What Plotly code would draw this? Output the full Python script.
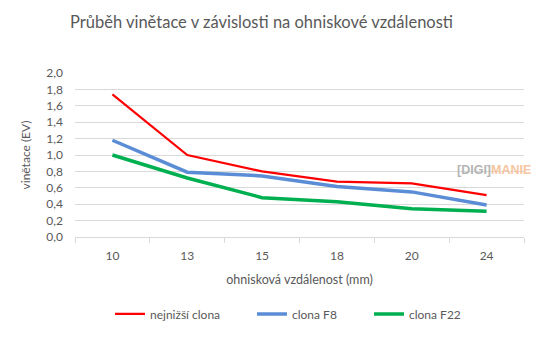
import plotly.graph_objects as go

categories = ["10", "13", "15", "18", "20", "24"]
nejnizsi = [1.74, 1.00, 0.80, 0.675, 0.655, 0.51]
f8 = [1.18, 0.79, 0.745, 0.615, 0.55, 0.39]
f22 = [1.00, 0.72, 0.48, 0.43, 0.345, 0.315]
series_names = ["nejnižší clona", "clona F8", "clona F22"]

FONT = "Lato"
GREY = "#595959"

fig = go.Figure()
fig.add_trace(go.Scatter(x=categories, y=nejnizsi, mode="lines", name=series_names[0],
                         line=dict(color="#FF0000", width=2.2), legend="legend", showlegend=True))
fig.add_trace(go.Scatter(x=categories, y=f8, mode="lines", name=series_names[1],
                         line=dict(color="#5B8DD6", width=3.5), legend="legend2", showlegend=True))
fig.add_trace(go.Scatter(x=categories, y=f22, mode="lines", name=series_names[2],
                         line=dict(color="#00B050", width=3.5), legend="legend3", showlegend=True))

L, R, T, B = 75, 24, 73, 101
W, H = 548, 339
pw = W - L - R

def lx(px):
    return (px - L) / pw

leg_common = dict(orientation="h", yanchor="middle", y=-0.46, xanchor="left",
                  bgcolor="rgba(0,0,0,0)", font=dict(family=FONT, size=12, color=GREY),
                  itemwidth=30, tracegroupgap=0, visible=True)

fig.update_layout(
    width=W, height=H,
    margin=dict(l=L, r=R, t=T, b=B),
    paper_bgcolor="white", plot_bgcolor="white",
    separators=", ",
    showlegend=True,
    title=dict(text="Průběh vinětace v závislosti na ohniskové vzdálenosti",
               x=261.5 / W, xanchor="center", y=1 - 22 / H, yanchor="middle",
               font=dict(family=FONT, size=16.5, color=GREY)),
    font=dict(family=FONT, size=12, color=GREY),
    legend=dict(x=lx(110), **leg_common),
    legend2=dict(x=lx(252), **leg_common),
    legend3=dict(x=lx(369), **leg_common),
    xaxis=dict(type="category", range=[-0.5, 5.5], showgrid=False,
               showline=True, linecolor="#D9D9D9", linewidth=1,
               ticks="outside", tickson="boundaries", ticklen=5, tickcolor="#D9D9D9",
               ticklabelstandoff=8,
               tickfont=dict(family=FONT, size=12, color=GREY),
               title=dict(text="ohnisková vzdálenost (mm)", standoff=12,
                          font=dict(family=FONT, size=12.5, color=GREY))),
    yaxis=dict(range=[0, 2.0], dtick=0.2, tickformat=".1f", showgrid=True,
               gridcolor="#D9D9D9", gridwidth=1, zeroline=False, showline=False,
               ticks="", ticklabelstandoff=11,
               tickfont=dict(family=FONT, size=12, color=GREY),
               title=dict(text="vinětace (EV)", standoff=13,
                          font=dict(family=FONT, size=12, color=GREY))),
    annotations=[dict(
        xref="paper", yref="paper", x=lx(493.5), y=(237.7 - 170) / 165,
        text="<b><span style='color:#B4B4B4'>[DIGI]</span><span style='color:#F6C6A0'>MANIE</span></b>",
        showarrow=False, font=dict(family="Liberation Sans", size=12.5), xanchor="center", yanchor="middle")],
)

fig.write_html("out.html")
